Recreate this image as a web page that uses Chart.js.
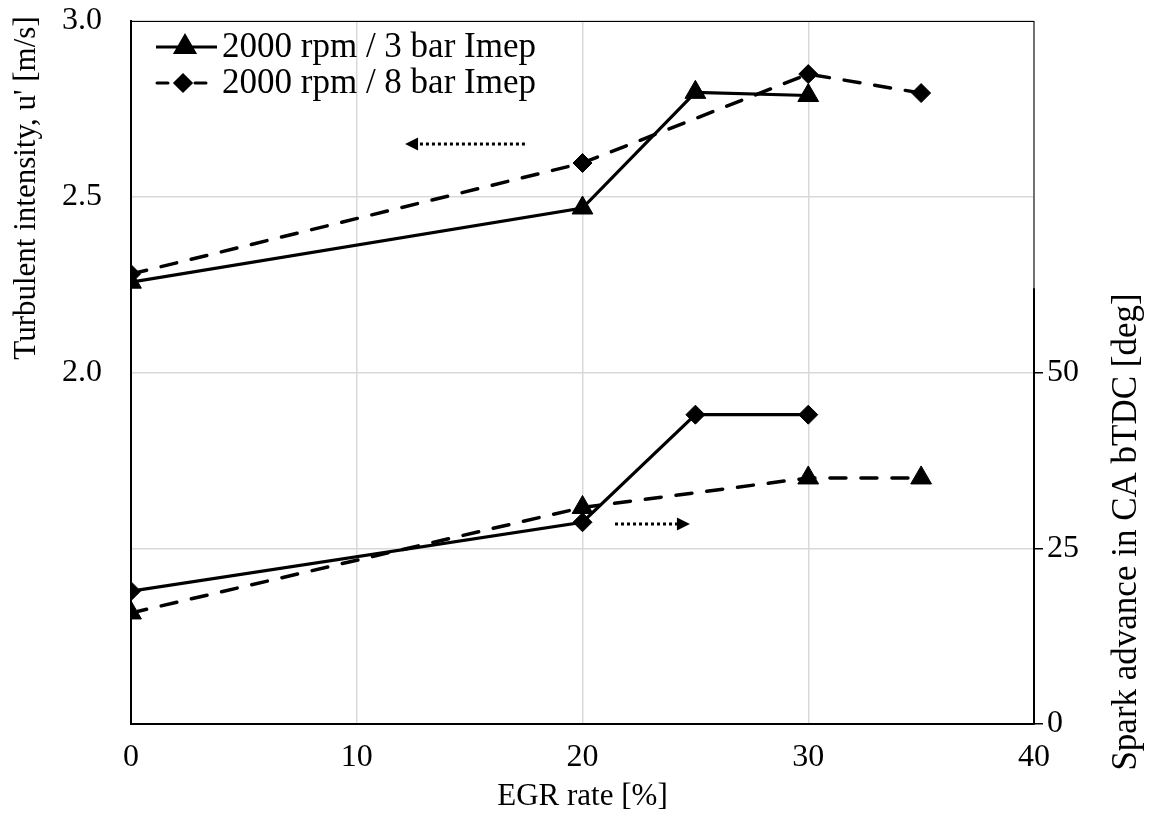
<!DOCTYPE html>
<html lang="en">
<head>
<meta charset="UTF-8">
<title>Turbulent intensity and spark advance vs EGR rate</title>
<style>
  html, body { margin: 0; padding: 0; background: #fff; }
  #wrap { width: 1150px; height: 823px; }
</style>
</head>
<body>
<div id="wrap"><canvas id="myChart"></canvas></div>

<script src="https://cdn.jsdelivr.net/npm/chart.js"></script>
<script>
// values
const egr3 = [0, 20, 25, 30];
const egr8 = [0, 20, 30, 35];
const turb3bar = [2.257, 2.468, 2.797, 2.788];
const turb8bar = [2.280, 2.596, 2.849, 2.795];
const spark3bar = [18.9, 28.7, 44.0, 44.0];
const spark8bar = [15.8, 30.8, 35.0, 35.0];
const xTicks = [0, 10, 20, 30, 40];
const leftTicks = [2.0, 2.5, 3.0];
const rightTicks = [0, 25, 50];
const seriesNames = ['2000 rpm / 3 bar Imep', '2000 rpm / 8 bar Imep'];
const leftTitle = "Turbulent intensity, u' [m/s]";
const rightTitle = 'Spark advance in CA bTDC [deg]';

const FONT = "'Liberation Serif', 'Times New Roman', serif";
Chart.defaults.font.family = FONT;
Chart.defaults.color = '#000';

const pts = (xs, ys) => xs.map((x, i) => ({ x: x, y: ys[i] }));

const solid = { borderColor: '#000', backgroundColor: '#000', borderWidth: 3.2, fill: false, tension: 0 };
const dashed = { ...solid, borderWidth: 3.5, borderDash: [16, 15], borderCapStyle: 'round' };
const tri = { pointStyle: 'triangle', pointRadius: 12, pointHoverRadius: 12, pointBorderWidth: 1 };
const dia = { pointStyle: 'rectRot', pointRadius: 9.5, pointHoverRadius: 9.5, pointBorderWidth: 1 };

// dotted arrows that tell which axis a pair of curves belongs to
const arrows = [
    { axis: 'y', from: [17.45, 2.650], to: [12.14, 2.650] },
    { axis: 'y2', from: [21.44, 28.45], to: [24.76, 28.45] }
];

const extras = {
    id: 'extras',
    beforeDatasetsDraw(chart) {
        const { ctx, chartArea: a, scales } = chart;
        ctx.save();
        ctx.strokeStyle = '#000';
        ctx.lineWidth = 1;
        ctx.strokeRect(a.left, a.top + 0.5, a.right - a.left, a.bottom - a.top);
        // heavier part of the right axis
        ctx.lineWidth = 2;
        ctx.beginPath();
        ctx.moveTo(a.right, scales.y2.getPixelForValue(62));
        ctx.lineTo(a.right, a.bottom);
        ctx.stroke();

        arrows.forEach(ar => {
            const x1 = scales.x.getPixelForValue(ar.from[0]);
            const x2 = scales.x.getPixelForValue(ar.to[0]);
            const y = scales[ar.axis].getPixelForValue(ar.from[1]);
            const dir = Math.sign(x2 - x1);
            const head = 13;
            ctx.lineWidth = 3;
            ctx.setLineDash([3, 3]);
            ctx.beginPath();
            ctx.moveTo(x1, y);
            ctx.lineTo(x2 - dir * head, y);
            ctx.stroke();
            ctx.setLineDash([]);
            ctx.fillStyle = '#000';
            ctx.beginPath();
            ctx.moveTo(x2, y);
            ctx.lineTo(x2 - dir * head, y - 6.5);
            ctx.lineTo(x2 - dir * head, y + 6.5);
            ctx.closePath();
            ctx.fill();
        });
        ctx.restore();
    },
    afterDraw(chart) {
        const { ctx, chartArea: a } = chart;
        ctx.save();
        ctx.fillStyle = '#000';
        ctx.strokeStyle = '#000';

        // both value-axis titles read bottom to top
        ctx.textAlign = 'center';
        ctx.textBaseline = 'middle';
        ctx.font = '31px ' + FONT;
        ctx.save();
        ctx.translate(27, 188);
        ctx.rotate(-Math.PI / 2);
        ctx.fillText(leftTitle, 0, 0);
        ctx.restore();
        ctx.font = '35px ' + FONT;
        ctx.save();
        ctx.translate(1127, 532);
        ctx.rotate(-Math.PI / 2);
        ctx.fillText(rightTitle, 0, 0);
        ctx.restore();

        // legend
        ctx.textAlign = 'left';
        ctx.font = '35px ' + FONT;
        seriesNames.forEach((name, i) => {
            const y = a.top + 26 + i * 36;
            const x0 = a.left + 25;
            ctx.lineWidth = 3;
            if (i === 0) {
                ctx.beginPath(); ctx.moveTo(x0, y); ctx.lineTo(x0 + 61, y); ctx.stroke();
                Chart.helpers.drawPoint(ctx, { pointStyle: 'triangle', radius: 11, borderWidth: 1 }, x0 + 29, y);
                ctx.fill();
            } else {
                ctx.lineCap = 'round';
                ctx.beginPath(); ctx.moveTo(x0 + 1, y); ctx.lineTo(x0 + 12, y); ctx.stroke();
                ctx.beginPath(); ctx.moveTo(x0 + 39, y); ctx.lineTo(x0 + 50, y); ctx.stroke();
                ctx.lineCap = 'butt';
                Chart.helpers.drawPoint(ctx, { pointStyle: 'rectRot', radius: 8, borderWidth: 1 }, x0 + 27, y);
                ctx.fill();
            }
            ctx.fillText(name, a.left + 91, y + 1);
        });
        ctx.restore();
    }
};

new Chart(document.getElementById('myChart'), {
    type: 'line',
    data: {
        datasets: [
            { label: seriesNames[0], data: pts(egr3, turb3bar), yAxisID: 'y', ...solid, ...tri },
            { label: seriesNames[1], data: pts(egr8, turb8bar), yAxisID: 'y', ...dashed, ...dia },
            { label: seriesNames[0], data: pts(egr3, spark3bar), yAxisID: 'y2', ...solid, ...dia },
            { label: seriesNames[1], data: pts(egr8, spark8bar), yAxisID: 'y2', ...dashed, ...tri }
        ]
    },
    options: {
        responsive: true,
        maintainAspectRatio: false,
        animation: false,
        layout: { padding: { top: 21, left: 0, right: 0, bottom: 0 } },
        plugins: { legend: { display: false }, tooltip: { enabled: false } },
        scales: {
            x: {
                type: 'linear', min: 0, max: 40,
                afterBuildTicks: s => { s.ticks = xTicks.map(v => ({ value: v })); },
                ticks: { font: { size: 32 }, padding: 14, maxRotation: 0 },
                grid: { color: '#d9d9d9', lineWidth: 1.5, drawTicks: false },
                border: { color: '#000', width: 2 },
                title: { display: true, text: 'EGR rate [%]', font: { size: 31 }, padding: { top: 0, bottom: 8 } },
                afterFit: s => { s.height = 99; }
            },
            y: {
                position: 'left', min: 1, max: 3,
                ticks: {
                    stepSize: 0.5, font: { size: 32 }, padding: 0,
                    callback: v => leftTicks.includes(v) ? v.toFixed(1) : ''
                },
                grid: { color: '#d9d9d9', lineWidth: 1.5, drawTicks: true, tickLength: 29, tickColor: 'rgba(0,0,0,0)' },
                border: { color: '#000', width: 2 },
                afterFit: s => { s.width = 131; }
            },
            y2: {
                position: 'right', min: 0, max: 100,
                ticks: {
                    stepSize: 25, font: { size: 32, lineHeight: 1 }, padding: 4,
                    callback: v => rightTicks.includes(v) ? v : ''
                },
                grid: {
                    drawOnChartArea: false, tickLength: 9, lineWidth: 1.5,
                    color: c => (c.tick && c.tick.value <= 50) ? '#000' : 'rgba(0,0,0,0)'
                },
                border: { display: false },
                afterFit: s => { s.width = 116; }
            }
        }
    },
    plugins: [extras]
});
</script>
</body>
</html>
